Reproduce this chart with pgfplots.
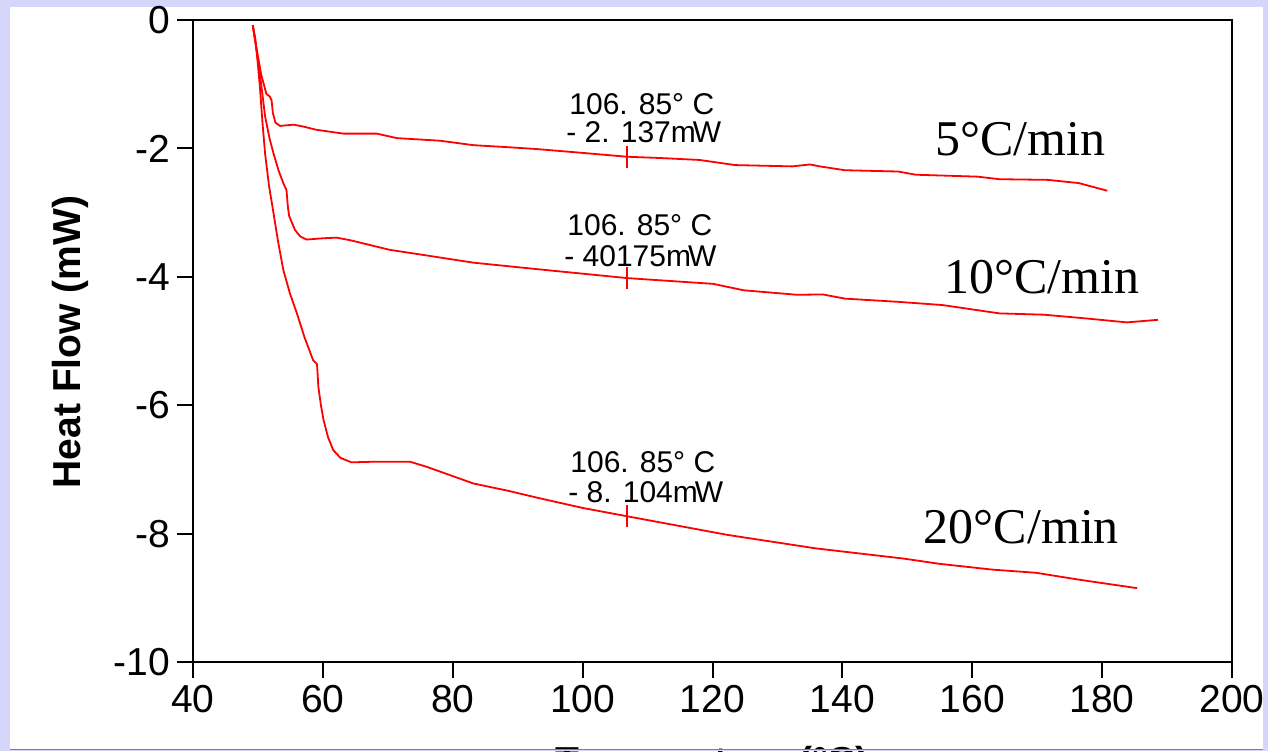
\documentclass[border=0pt]{standalone}
\usepackage{fontspec}
\setmainfont{Liberation Sans}
\newfontfamily\timesfont{Liberation Serif}
\usepackage{pgfplots}
\pgfplotsset{compat=1.18}
\definecolor{lav}{RGB}{214,214,250}
\definecolor{curvered}{RGB}{255,0,0}
\begin{document}
\begin{tikzpicture}[x=1pt,y=1pt]
\useasboundingbox (0,0) rectangle (634,375.5);
\clip (0,0) rectangle (634,375.5);
\fill[lav] (0,0) rectangle (634,375.5);
\fill[white] (5,1) rectangle (631.5,372);
\begin{axis}[at={(96.5pt,44.5pt)}, anchor=south west, scale only axis,
  width=519.5pt, height=321pt,
  xmin=40, xmax=200, ymin=-10, ymax=0,
  xtick={40,60,80,100,120,140,160,180,200},
  ytick={-10,-8,-6,-4,-2,0},
  xticklabels={40,60,80,100,120,140,160,180,200},
  yticklabels={-10,-8,-6,-4,-2,0},
  tick align=outside, xtick pos=left, ytick pos=left,
  major tick length=8pt,
  tick style={black, line width=1pt},
  axis line style={black, line width=1.2pt},
  ticklabel style={font=\fontsize{19.5}{19.5}\selectfont},
  clip=false]
\addplot[curvered, line width=0.9pt, mark=none] coordinates {
(49.2,-0.08) (49.8,-0.45) (50.5,-0.85) (51.3,-1.15) (51.8,-1.19) (52.1,-1.25)
(52.3,-1.45) (52.7,-1.60) (53.4,-1.65) (55.5,-1.63) (57.0,-1.66) (59.0,-1.71)
(63.2,-1.77) (68.3,-1.77) (71.4,-1.84) (78.0,-1.88) (83.2,-1.95) (88.3,-1.98)
(92.9,-2.01) (100.0,-2.07) (106.85,-2.13) (112,-2.15) (118.0,-2.18) (123.5,-2.26)
(132.3,-2.28) (135.0,-2.25) (136.5,-2.28) (140.4,-2.34) (148.6,-2.36) (151.3,-2.41)
(160.8,-2.44) (164.2,-2.48) (171.6,-2.49) (176.4,-2.54) (180.8,-2.66)};
\addplot[curvered, line width=0.9pt, mark=none] coordinates {
(49.2,-0.08) (49.9,-0.55) (50.5,-1.0) (51.1,-1.50) (51.8,-1.85) (52.4,-2.08)
(53.2,-2.35) (53.9,-2.54) (54.4,-2.65) (54.6,-2.90) (54.8,-3.05) (55.7,-3.27)
(56.5,-3.37) (57.5,-3.42) (60.0,-3.40) (62.1,-3.39) (64.2,-3.43) (70.3,-3.58)
(75.5,-3.66) (83.2,-3.78) (92.9,-3.88) (106.85,-4.02) (120.1,-4.11) (124.8,-4.21)
(133.0,-4.28) (137.0,-4.275) (140.4,-4.34) (148.6,-4.39) (155.4,-4.44) (164.2,-4.57)
(171.0,-4.59) (177.7,-4.65) (183.8,-4.71) (188.6,-4.67)};
\addplot[curvered, line width=0.9pt, mark=none] coordinates {
(49.2,-0.08) (49.6,-0.30) (50.0,-0.70) (50.3,-1.04) (50.7,-1.60) (51.1,-2.08)
(51.7,-2.58) (52.4,-3.01) (53.1,-3.45) (53.9,-3.89) (54.9,-4.25)
(56.0,-4.57) (57.2,-4.95) (58.5,-5.30) (59.1,-5.36) (59.3,-5.71) (59.7,-6.0) (60.1,-6.23)
(60.8,-6.50) (61.6,-6.70) (62.7,-6.82) (64.4,-6.89) (68.0,-6.88) (73.4,-6.88)
(76.0,-6.96) (83.2,-7.22) (88.4,-7.33) (93.4,-7.45) (100,-7.60) (106.85,-7.73)
(122.3,-8.02) (135.9,-8.23) (149.5,-8.39) (154.9,-8.47) (163.0,-8.56)
(169.8,-8.61) (176.6,-8.72) (185.4,-8.85)};
\addplot[only marks, mark=|, mark size=5.5pt,
  mark options={draw=curvered, line width=0.8pt}] coordinates {
(106.85,-2.13) (106.85,-4.02) (106.85,-7.73)};
\end{axis}
% annotations
\begin{scope}[every node/.style={inner sep=0pt, font=\fontsize{15}{15}\selectfont}]
\node[anchor=base west] at (284.5,318) {106. 85° C};
\node[anchor=base west] at (283,304) {- 2. 137m\kern-1.5pt W};
\node[anchor=base west] at (283.5,258) {106. 85° C};
\node[anchor=base west] at (282,242.5) {- 40175m\kern-1.5pt W};
\node[anchor=base west] at (285,139.5) {106. 85° C};
\node[anchor=base west] at (284,124.5) {- 8. 104m\kern-1.5pt W};
\end{scope}
\begin{scope}[every node/.style={inner sep=0pt, font=\timesfont\fontsize{25}{25}\selectfont}]
\node[anchor=base west] at (467.5,297.5) {5°C/min};
\node[anchor=base west] at (472,229) {10°C/min};
\node[anchor=base west] at (461.75,104) {20°C/min};
\end{scope}
\node[rotate=90, inner sep=0pt, font=\bfseries\fontsize{19.5}{19.5}\selectfont] at (35,204.5) {Heat Flow (mW)};
\node[anchor=north, inner sep=0pt, font=\bfseries\fontsize{19.5}{19.5}\selectfont] at (356,2.5) {Temperature (°C)};
\fill[lav] (0,0) rectangle (634,1);
\draw[gray, line width=0.6pt] (5,0.6) -- (631.5,0.6);
\fill[lav] (631.5,0) rectangle (634,375.5);
\end{tikzpicture}
\end{document}
